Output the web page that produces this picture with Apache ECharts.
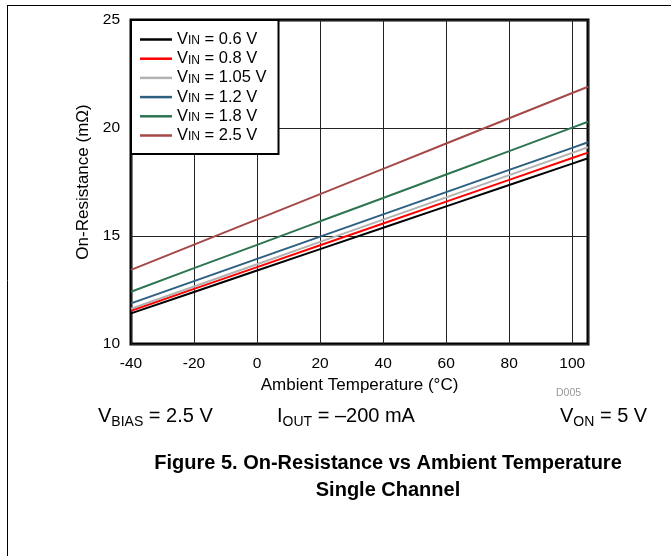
<!DOCTYPE html>
<html>
<head>
<meta charset="utf-8">
<script src="https://cdn.jsdelivr.net/npm/echarts@6/dist/echarts.min.js"></script>
<style>
html,body{margin:0;padding:0;background:#fff;}
#c{width:671px;height:556px;}
</style>
</head>
<body>
<div id="c"></div>
<script>
// Data
const temps = [-40, -20, 0, 20, 40, 60, 80, 100, 105];
const vin06  = [11.42, 12.41, 13.40, 14.39, 15.38, 16.37, 17.36, 18.35, 18.60];
const vin08  = [11.54, 12.55, 13.56, 14.57, 15.58, 16.59, 17.60, 18.61, 18.86];
const vin105 = [11.63, 12.66, 13.69, 14.73, 15.76, 16.79, 17.82, 18.85, 19.11];
const vin12  = [11.88, 12.91, 13.94, 14.97, 16.00, 17.03, 18.06, 19.08, 19.34];
const vin18  = [12.42, 13.51, 14.59, 15.68, 16.76, 17.85, 18.93, 20.02, 20.29];
const vin25  = [13.43, 14.60, 15.77, 16.94, 18.11, 19.28, 20.45, 21.62, 21.91];
const vinLabels = ['0.6', '0.8', '1.05', '1.2', '1.8', '2.5'];
const seriesValues = [vin06, vin08, vin105, vin12, vin18, vin25];
const colors = ['#000000', '#ff0000', '#b2b2b2', '#2c5f80', '#2d7550', '#a54848'];

const FONT = "'Liberation Sans', Arial, sans-serif";

const chart = echarts.init(document.getElementById('c'), null, {renderer: 'canvas'});

const series = seriesValues.map((vals, k) => ({
  name: vinLabels[k],
  type: 'line',
  symbol: 'none',
  showSymbol: false,
  data: temps.map((t, i) => [t, vals[i]]),
  lineStyle: {color: colors[k], width: 2},
  itemStyle: {color: colors[k]},
  z: 3
}));

function sub(main, s, rest, x, y, size, subSize) {
  return {
    type: 'text', x: x, y: y,
    style: {
      text: '{a|' + main + '}{s|' + s + '}{a|' + rest + '}',
      fill: '#000', align: 'left', verticalAlign: 'middle',
      rich: {
        a: {fontSize: size, fontFamily: FONT, lineHeight: size + 6, verticalAlign: 'middle', fill: '#000'},
        s: {fontSize: subSize, fontFamily: FONT, lineHeight: Math.round(subSize * 0.75), verticalAlign: 'bottom', fill: '#000'}
      }
    }
  };
}

chart.setOption({
  animation: false,
  backgroundColor: '#fff',
  grid: {left: 131, top: 20, width: 457, height: 324, show: true, borderColor: '#000', borderWidth: 3, backgroundColor: 'transparent', containLabel: false},
  legend: {
    orient: 'vertical', left: 131, top: 20,
    icon: 'rect',
    itemWidth: 32, itemHeight: 2.5, itemGap: 2.2,
    padding: [11, 12, 10, 9],
    backgroundColor: '#fff', borderColor: '#000', borderWidth: 2,
    data: vinLabels,
    formatter: n => '{a|V}{s|IN}{a| = ' + n + ' V}',
    textStyle: {
      color: '#000', fontFamily: FONT,
      rich: {
        a: {fontSize: 16.5, fontFamily: FONT, lineHeight: 15, verticalAlign: 'middle', color: '#000'},
        s: {fontSize: 12, fontFamily: FONT, lineHeight: 7, verticalAlign: 'bottom', color: '#000'}
      }
    }
  },
  xAxis: {
    type: 'value', min: -40, max: 105, interval: 20,
    name: 'Ambient Temperature (°C)', nameLocation: 'middle', nameGap: 29,
    nameTextStyle: {fontSize: 17, fontFamily: FONT, color: '#000'},
    axisLine: {show: false}, axisTick: {show: false},
    axisLabel: {fontSize: 15.5, fontFamily: FONT, color: '#000', margin: 12, showMaxLabel: false},
    splitLine: {show: true, lineStyle: {color: '#222', width: 1}}
  },
  yAxis: {
    type: 'value', min: 10, max: 25, interval: 5,
    name: 'On-Resistance (mΩ)', nameLocation: 'middle', nameGap: 34,
    nameTextStyle: {fontSize: 17, fontFamily: FONT, color: '#000'},
    axisLine: {show: false}, axisTick: {show: false},
    axisLabel: {fontSize: 15.5, fontFamily: FONT, color: '#000', margin: 11},
    splitLine: {show: true, lineStyle: {color: '#222', width: 1}}
  },
  series: series,
  graphic: [
    {type: 'line', shape: {x1: 7, y1: 5.5, x2: 671, y2: 5.5}, style: {stroke: '#000', lineWidth: 1}},
    {type: 'line', shape: {x1: 7.5, y1: 5, x2: 7.5, y2: 556}, style: {stroke: '#000', lineWidth: 1}},
    {type: 'text', x: 556, y: 388, style: {text: 'D005', fill: '#999', fontSize: 10.5, fontFamily: FONT}},
    sub('V', 'BIAS', ' = 2.5 V', 98, 416, 20, 14),
    sub('I', 'OUT', ' = \u2013200 mA', 277, 416, 20, 14),
    sub('V', 'ON', ' = 5 V', 560, 416, 20, 14),
    {type: 'text', x: 388, y: 463, style: {text: 'Figure 5. On-Resistance vs Ambient Temperature', align: 'center', verticalAlign: 'middle', fill: '#000', fontSize: 20, fontWeight: 'bold', fontFamily: FONT}},
    {type: 'text', x: 388, y: 490, style: {text: 'Single Channel', align: 'center', verticalAlign: 'middle', fill: '#000', fontSize: 20, fontWeight: 'bold', fontFamily: FONT}}
  ]
});
</script>
</body>
</html>
